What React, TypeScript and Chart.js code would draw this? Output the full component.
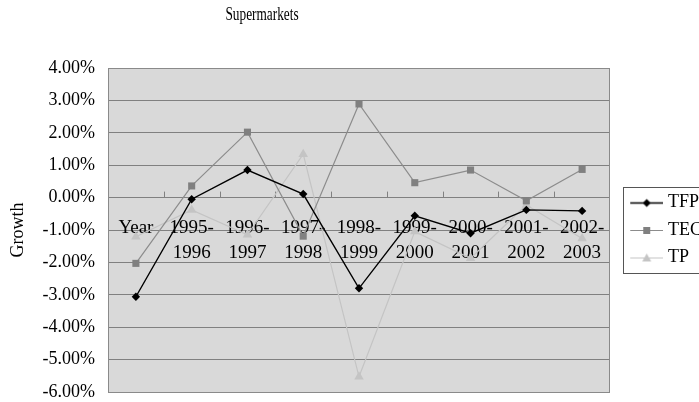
import React, { useEffect, useRef } from "react";
import { Chart, registerables } from "chart.js";

Chart.register(...registerables);

const TITLE = "Supermarkets";
const categories: (string | string[])[] = [
  "Year",
  ["1995-", "1996"],
  ["1996-", "1997"],
  ["1997-", "1998"],
  ["1998-", "1999"],
  ["1999-", "2000"],
  ["2000-", "2001"],
  ["2001-", "2002"],
  ["2002-", "2003"],
];
const tfp = [-3.06, -0.05, 0.85, 0.11, -2.8, -0.56, -1.1, -0.38, -0.41];
const tec = [-2.03, 0.36, 2.02, -1.19, 2.89, 0.46, 0.85, -0.1, 0.87];
const tp = [-1.21, -0.38, -1.15, 1.34, -5.53, -1.05, -1.87, -0.23, -1.26];
const yMin = -6;
const yMax = 4;
const yStep = 1;

const SERIF = "'Liberation Serif', 'Times New Roman', serif";

function legendIcon(color: string, style: string, fill: string) {
  const c = document.createElement("canvas");
  c.width = 48;
  c.height = 12;
  const g = c.getContext("2d")!;
  g.strokeStyle = color;
  g.lineWidth = style === "rectRot" ? 1.4 : 1;
  g.beginPath();
  g.moveTo(15, 6.5);
  g.lineTo(48, 6.5);
  g.stroke();
  g.fillStyle = fill;
  const cx = 31.5, cy = 6.5;
  g.beginPath();
  if (style === "rectRot") {
    g.moveTo(cx, cy - 4);
    g.lineTo(cx + 4, cy);
    g.lineTo(cx, cy + 4);
    g.lineTo(cx - 4, cy);
  } else if (style === "rect") {
    g.rect(cx - 3.5, cy - 3.5, 7, 7);
  } else {
    g.moveTo(cx, cy - 4.5);
    g.lineTo(cx + 4.5, cy + 3.5);
    g.lineTo(cx - 4.5, cy + 3.5);
  }
  g.closePath();
  g.fill();
  return c;
}

const decor = {
  id: "decor",
  beforeDraw(chart: any) {
    const { ctx, chartArea: a } = chart;
    ctx.save();
    ctx.fillStyle = "#d9d9d9";
    ctx.fillRect(a.left, a.top, a.right - a.left, a.bottom - a.top);
    ctx.restore();
  },
  beforeDatasetsDraw(chart: any) {
    const { ctx, chartArea: a } = chart;
    const xs = chart.scales.x;
    const ys = chart.scales.y;
    const y0 = ys.getPixelForValue(0);
    ctx.save();
    ctx.strokeStyle = "#808080";
    ctx.lineWidth = 1;
    ctx.beginPath();
    for (let i = 1; i < categories.length; i++) {
      const x = Math.round(xs.getPixelForValue(i - 0.5)) + 0.5;
      ctx.moveTo(x, y0 - 6);
      ctx.lineTo(x, y0);
    }
    ctx.stroke();
    ctx.strokeStyle = "#8a8a8a";
    ctx.strokeRect(a.left + 0.5, a.top + 0.5, a.right - a.left - 1, a.bottom - a.top);
    ctx.restore();
  },
  afterDraw(chart: any) {
    const { ctx } = chart;
    ctx.save();
    ctx.fillStyle = "#000";
    ctx.font = `19px ${SERIF}`;
    ctx.textAlign = "center";
    ctx.textBaseline = "middle";
    ctx.translate(262, 15);
    ctx.scale(0.7, 1);
    ctx.fillText(TITLE, 0, 0);
    ctx.restore();
    const lg = chart.legend;
    if (lg && lg.legendHitBoxes && lg.legendHitBoxes.length) {
      const hb = lg.legendHitBoxes;
      const top = hb[0].top - 7;
      const bottom = hb[hb.length - 1].top + hb[hb.length - 1].height + 6;
      ctx.save();
      ctx.strokeStyle = "#555";
      ctx.lineWidth = 1;
      ctx.strokeRect(lg.left + 13.5, Math.round(top) + 0.5, 200, Math.round(bottom - top));
      ctx.restore();
    }
  },
};

export default function App() {
  const ref = useRef<HTMLCanvasElement | null>(null);
  useEffect(() => {
    const canvas = ref.current!;
    const chart = new Chart(canvas, {
      type: "line",
      data: {
        labels: categories as any,
        datasets: [
          {
            label: "TFP",
            data: tfp,
            borderColor: "#000000",
            backgroundColor: "#000000",
            borderWidth: 1.4,
            pointStyle: "rectRot",
            pointRadius: 4.2,
            pointBorderWidth: 0,
            tension: 0,
          },
          {
            label: "TEC",
            data: tec,
            borderColor: "#8c8c8c",
            backgroundColor: "#808080",
            borderWidth: 1.2,
            pointStyle: "rect",
            pointRadius: 5,
            pointBorderWidth: 0,
            tension: 0,
          },
          {
            label: "TP",
            data: tp,
            borderColor: "#c4c4c4",
            backgroundColor: "#c4c4c4",
            borderWidth: 1.2,
            pointStyle: "triangle",
            pointRadius: 5.5,
            pointBorderWidth: 0,
            tension: 0,
          },
        ],
      },
      plugins: [decor],
      options: {
        responsive: false,
        animation: false,
        layout: { padding: { top: 68, bottom: 10, left: 0, right: 0 } },
        plugins: {
          title: { display: false },
          tooltip: { enabled: false },
          legend: {
            position: "right",
            fullSize: false,
            maxWidth: 89,
            labels: {
              usePointStyle: true,
              pointStyleWidth: 39.5,
              padding: 9.5,
              color: "#000",
              font: { family: SERIF, size: 18 },
              generateLabels: (ch: any) =>
                ch.data.datasets.map((ds: any, i: number) => ({
                  text: ds.label,
                  pointStyle: legendIcon(ds.borderColor, ds.pointStyle, ds.backgroundColor),
                  fillStyle: ds.backgroundColor,
                  strokeStyle: ds.borderColor,
                  lineWidth: 0,
                  hidden: false,
                  datasetIndex: i,
                  fontColor: "#000",
                })),
            },
          },
        },
        scales: {
          x: {
            type: "category",
            offset: true,
            position: { y: 0 } as any,
            grid: { display: false, drawTicks: false },
            border: { display: false },
            ticks: {
              autoSkip: false,
              maxRotation: 0,
              minRotation: 0,
              padding: 18,
              color: "#000",
              font: { family: SERIF, size: 19, lineHeight: 1.3 },
            },
          },
          y: {
            min: yMin,
            max: yMax,
            afterFit: (s: any) => {
              s.width = 108;
            },
            title: {
              display: true,
              text: "Growth",
              color: "#000",
              font: { family: SERIF, size: 18 },
              padding: { top: 7, bottom: 0 },
            },
            grid: {
              color: "#808080",
              lineWidth: 1,
              drawTicks: true,
              tickLength: 13,
              tickColor: "rgba(0,0,0,0)",
            },
            border: { display: true, color: "#8a8a8a" },
            ticks: {
              stepSize: yStep,
              padding: 0,
              color: "#000",
              font: { family: SERIF, size: 18, lineHeight: 1.1 },
              callback: (v: any) => Number(v).toFixed(2) + "%",
            },
          },
        },
      },
    });
    return () => chart.destroy();
  }, []);
  return (
    <div style={{ position: "absolute", left: 0, top: 0, width: 699, height: 402 }}>
      <canvas ref={ref} width={699} height={402} />
    </div>
  );
}
